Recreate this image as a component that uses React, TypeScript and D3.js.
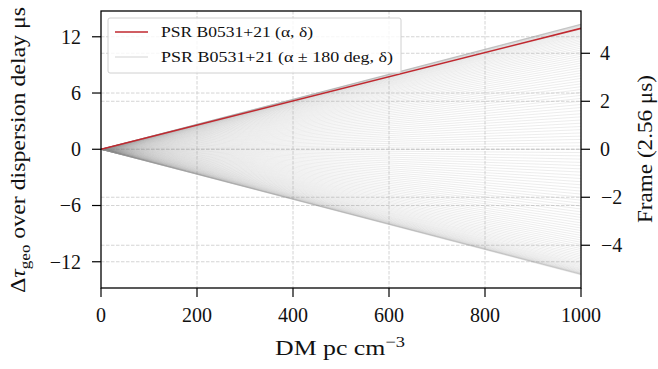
import React from "react";
import * as d3 from "d3";

const dmRange = [0, 1000];
const xTicks = [0, 200, 400, 600, 800, 1000];
const leftTicks = [-12, -6, 0, 6, 12];
const rightTicks = [-4, -2, 0, 2, 4];
const frameUs = 2.56;
const redEnd = 12.9; // delay (µs) at DM = 1000 for (α, δ)
// delay (µs) at DM = 1000 for the α±180 deg sweep
const grayEndsPos = [
  13.35, 13.35, 13.33, 13.31, 13.28, 13.24, 13.19, 13.13, 13.06, 12.98,
  12.9, 12.8, 12.7, 12.58, 12.46, 12.33, 12.2, 12.05, 11.9, 11.73,
  11.56, 11.38, 11.2, 11.0, 10.8, 10.59, 10.38, 10.15, 9.92, 9.68,
  9.44, 9.19, 8.93, 8.67, 8.4, 8.13, 7.85, 7.56, 7.27, 6.98,
  6.68, 6.37, 6.06, 5.75, 5.43, 5.11, 4.78, 4.46, 4.13, 3.79,
  3.46, 3.12, 2.78, 2.43, 2.09, 1.74, 1.4, 1.05, 0.7, 0.35, 0,
];
const grayEndsNeg = [
  -0.35, -0.7, -1.05, -1.4, -1.74, -2.09, -2.43, -2.78, -3.12, -3.46,
  -3.79, -4.13, -4.46, -4.78, -5.11, -5.43, -5.75, -6.06, -6.37, -6.68,
  -6.98, -7.27, -7.56, -7.85, -8.13, -8.4, -8.67, -8.93, -9.19, -9.44,
  -9.68, -9.92, -10.15, -10.38, -10.59, -10.8, -11.0, -11.2, -11.38, -11.56,
  -11.73, -11.9, -12.05, -12.2, -12.33, -12.46, -12.58, -12.7, -12.8, -12.9,
  -12.98, -13.06, -13.13, -13.19, -13.24, -13.28, -13.31, -13.33, -13.35, -13.4,
];
const legendLabels = ["PSR B0531+21 (α, δ)", "PSR B0531+21 (α ± 180 deg, δ)"];

const W = 658, H = 369;
const L = 101, R = 581, T = 11, B = 288;
const FONT = "'Liberation Serif', 'DejaVu Serif', serif";
const RED = "#c0282f";

export default function App() {
  const x = d3.scaleLinear().domain(dmRange).range([L, R]);
  const y = d3.scaleLinear().domain([-14.8, 14.75]).range([B, T]);
  const yR = d3.scaleLinear().domain([-14.8 / frameUs, 14.75 / frameUs]).range([B, T]);
  const line = d3.line<[number, number]>().x(d => x(d[0])).y(d => y(d[1]));
  const mk = (end: number): [number, number][] => [[dmRange[0], 0], [dmRange[1], end * dmRange[1] / 1000]];
  const grays = [...grayEndsPos, ...grayEndsNeg];
  const gridStyle = { stroke: "#cfcfcf", strokeWidth: 0.9, strokeDasharray: "3.5,1.5" };
  const fmt = (t: number) => (t < 0 ? "−" + Math.abs(t) : String(t));

  return (
    <svg width={W} height={H} style={{ position: "absolute", left: 0, top: 0, background: "#fff" }} fontFamily={FONT}>
      <defs>
        <clipPath id="plot"><rect x={L} y={T} width={R - L} height={B - T} /></clipPath>
      </defs>
      {/* grid */}
      <g>
        {xTicks.filter(t => t > 0 && t < 1000).map(t => (
          <line key={"gx" + t} x1={x(t)} x2={x(t)} y1={T} y2={B} {...gridStyle} />
        ))}
        {leftTicks.map(t => (
          <line key={"gl" + t} x1={L} x2={R} y1={y(t)} y2={y(t)} {...gridStyle} />
        ))}
        {rightTicks.map(t => (
          <line key={"gr" + t} x1={L} x2={R} y1={yR(t)} y2={yR(t)} {...gridStyle} />
        ))}
      </g>
      {/* lines */}
      <g clipPath="url(#plot)" fill="none">
        {grays.map((e, i) => (
          <path key={i} d={line(mk(e)) || ""} stroke="#8c8c8c" strokeOpacity={0.16} strokeWidth={1} />
        ))}
        <path d={line(mk(redEnd)) || ""} stroke={RED} strokeWidth={1.6} />
      </g>
      {/* legend */}
      <g>
        <rect x={108} y={18} width={293} height={55} rx={2} fill="#fff" fillOpacity={0.8} stroke="#d0d0d0" strokeWidth={1} />
        <line x1={115} x2={148} y1={32} y2={32} stroke={RED} strokeWidth={1.6} />
        <line x1={115} x2={148} y1={57} y2={57} stroke="#8c8c8c" strokeOpacity={0.25} strokeWidth={1.5} />
        <text x={161} y={37} fontSize={15.5} fill="#111" textLength={152} lengthAdjust="spacingAndGlyphs">{legendLabels[0]}</text>
        <text x={161} y={62} fontSize={15.5} fill="#111" textLength={232} lengthAdjust="spacingAndGlyphs">{legendLabels[1]}</text>
      </g>
      {/* frame */}
      <rect x={L} y={T} width={R - L} height={B - T} fill="none" stroke="#000" strokeWidth={1.3} />
      {/* x axis */}
      {xTicks.map(t => (
        <g key={"xt" + t}>
          <line x1={x(t)} x2={x(t)} y1={B} y2={B + 9} stroke="#000" strokeWidth={1.2} />
          <text x={x(t)} y={322} fontSize={20} textAnchor="middle" fill="#111">{t}</text>
        </g>
      ))}
      {/* left axis */}
      {leftTicks.map(t => (
        <g key={"lt" + t}>
          <line x1={L - 9} x2={L} y1={y(t)} y2={y(t)} stroke="#000" strokeWidth={1.2} />
          <text x={81} y={y(t)} dy="0.34em" fontSize={20} textAnchor="end" fill="#111">{fmt(t)}</text>
        </g>
      ))}
      {/* right axis */}
      {rightTicks.map(t => (
        <g key={"rt" + t}>
          <line x1={R} x2={R + 9} y1={yR(t)} y2={yR(t)} stroke="#000" strokeWidth={1.2} />
          <text x={t < 0 ? 601 : 600} y={yR(t)} dy="0.34em" fontSize={20} textAnchor="start" fill="#111">{fmt(t)}</text>
        </g>
      ))}
      {/* axis labels */}
      <text x={275} y={355} fontSize={21} fill="#111" textLength={130} lengthAdjust="spacingAndGlyphs">
        DM pc cm<tspan dy={-8} fontSize={15}>−3</tspan>
      </text>
      <text transform="translate(25,293) rotate(-90)" fontSize={21} fill="#111" textLength={286} lengthAdjust="spacingAndGlyphs">
        Δ<tspan fontStyle="italic">τ</tspan><tspan dy={5} fontSize={15}>geo</tspan><tspan dy={-5}> over dispersion delay μs</tspan>
      </text>
      <text transform="translate(652,223) rotate(-90)" fontSize={21} fill="#111" textLength={148} lengthAdjust="spacingAndGlyphs">
        Frame (2.56 μs)
      </text>
    </svg>
  );
}
